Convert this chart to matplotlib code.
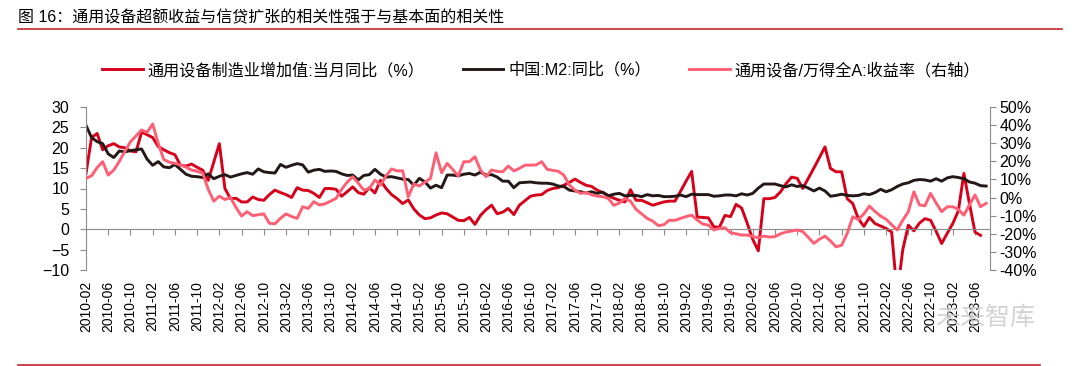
import matplotlib
matplotlib.use("Agg")
import matplotlib.pyplot as plt
from matplotlib.lines import Line2D
import numpy as np
import pandas as pd

plt.rcParams['font.family'] = ['Liberation Sans', 'Noto Sans CJK SC', 'DejaVu Sans']

# monthly data, 2010-02 .. 2023-08
months = pd.period_range("2010-02", "2023-08", freq="M")

# 通用设备制造业增加值:当月同比 (%), 2010-02 .. 2023-07
equip_va = [
    13.7, 22.5, 23.5, 19.5, 20.5, 21.0, 20.2, 20.0, 19.2, 19.0, 23.8,
    23.2, 22.5, 20.3, 19.5, 18.8, 18.3, 15.7, 15.5, 16.0, 15.2, 14.5, 12.0,
    16.5, 21.0, 10.0, 7.5, 7.6, 6.7, 6.7, 7.9, 7.3, 7.1, 8.5, 9.6,
    9.0, 8.5, 7.8, 10.2, 9.6, 9.5, 8.8, 7.8, 10.0, 10.0, 9.8, 8.1,
    9.2, 10.4, 9.0, 8.6, 10.2, 8.9, 12.0, 10.0, 8.5, 7.5, 6.3, 7.2,
    5.0, 3.5, 2.6, 2.8, 3.5, 4.0, 3.8, 3.0, 2.2, 2.1, 2.9, 1.2,
    3.4, 4.8, 5.9, 3.8, 4.2, 5.1, 3.6, 5.9, 7.0, 8.1, 8.4, 8.5,
    9.5, 10.0, 10.2, 10.8, 11.5, 12.3, 11.5, 10.8, 10.5, 9.6, 9.0, 8.3,
    7.6, 7.1, 6.7, 9.7, 7.1, 7.1, 6.5, 5.9, 6.3, 6.7, 6.9, 6.9,
    9.3, 11.8, 14.2, 3.0, 2.9, 2.8, 0.6, 0.5, 3.4, 3.1, 6.1, 5.2,
    1.5, -2.5, -5.3, 7.5, 7.5, 7.8, 9.2, 11.2, 12.8, 12.5, 10.0, 12.5,
    15.0, 17.6, 20.2, 14.9, 14.1, 14.1, 7.5, 6.3, 2.6, 0.7, 2.9, 1.4,
    0.8, 0.2, -0.7, -16.0, -5.0, 1.0, -0.4, 1.5, 2.6, 2.2, -0.5, -3.5,
    -1.0, 1.4, 4.5, 13.7, 6.3, -0.7, -1.5,
]

# 中国:M2:同比 (%)
m2 = [
    25.5, 22.5, 21.5, 21.0, 18.5, 17.6, 19.2, 19.0, 19.3, 19.5, 19.7,
    17.2, 15.7, 16.6, 15.3, 15.1, 15.9, 14.7, 13.5, 13.0, 12.9, 12.7, 13.6,
    12.4, 13.0, 13.4, 12.8, 13.2, 13.6, 13.9, 13.5, 14.8, 14.1, 13.9, 13.8,
    15.9, 15.2, 15.7, 16.1, 15.8, 14.0, 14.5, 14.7, 14.2, 14.3, 14.2, 13.6,
    13.2, 13.3, 12.1, 13.2, 13.4, 14.7, 13.5, 12.8, 12.9, 12.6, 12.3, 12.2,
    10.8, 12.5, 11.6, 10.1, 10.8, 10.2, 13.3, 13.3, 13.1, 13.5, 13.7, 13.3,
    14.0, 13.3, 13.4, 12.8, 11.8, 11.8, 10.2, 11.4, 11.5, 11.6, 11.4, 11.3,
    11.3, 11.1, 10.6, 10.5, 9.6, 9.4, 9.2, 8.9, 9.2, 8.8, 9.1, 8.2,
    8.6, 8.8, 8.2, 8.3, 8.3, 8.0, 8.5, 8.2, 8.3, 8.0, 8.0, 8.1,
    8.4, 8.0, 8.6, 8.5, 8.5, 8.5, 8.1, 8.2, 8.4, 8.4, 8.2, 8.7,
    8.4, 8.8, 10.1, 11.1, 11.1, 11.1, 10.7, 10.4, 10.9, 10.5, 10.7, 10.1,
    9.4, 10.1, 9.4, 8.1, 8.3, 8.6, 8.3, 8.2, 8.3, 8.7, 8.5, 9.0,
    9.8, 9.2, 9.7, 10.5, 11.1, 11.4, 12.0, 12.2, 12.1, 11.8, 12.4, 11.8,
    12.6, 12.9, 12.7, 12.4, 11.6, 11.3, 10.7, 10.6,
]

# 通用设备/万得全A:收益率 (%), right axis
rel_ret = [
    10.6, 12.0, 16.5, 19.8, 12.4, 15.2, 20.0, 25.5, 30.8, 34.0, 37.3,
    36.0, 40.6, 29.9, 21.0, 19.5, 18.9, 18.0, 16.8, 15.2, 14.5, 13.5, 4.5,
    -2.0, 0.8, -1.1, 0.1, -5.5, -10.2, -7.8, -10.0, -9.5, -9.0, -14.2, -14.5,
    -11.5, -9.0, -10.5, -11.5, -5.1, -6.0, -2.3, -4.1, -3.5, -2.0, -0.5, 4.5,
    8.5, 11.5, 8.0, 4.1, 5.0, 9.7, 6.9, 12.0, 15.8, 14.7, 14.8, 0.4,
    7.5, 6.4, 8.5, 10.6, 24.7, 13.7, 18.9, 15.5, 11.9, 19.8, 19.8, 22.5,
    15.2, 11.5, 15.2, 14.5, 14.2, 17.4, 14.7, 16.1, 17.9, 17.9, 18.0, 19.8,
    15.6, 15.0, 14.5, 12.4, 6.9, 4.1, 2.3, 2.8, 1.5, 0.8, 0.5, -0.5,
    -4.3, -3.0, -0.5, -2.0, -6.5, -9.0, -11.5, -13.0, -15.5, -15.0, -12.5, -12.6,
    -11.5, -10.5, -9.7, -12.4, -14.6, -15.2, -17.9, -17.0, -16.7, -19.4, -20.0, -20.7,
    -20.7, -21.5, -22.2, -21.3, -21.8, -21.6, -20.0, -19.0, -18.5, -17.9, -18.8, -22.0,
    -25.3, -23.0, -21.3, -24.0, -27.2, -26.3, -19.8, -10.6, -12.1, -9.0, -4.7, -7.7,
    -10.2, -12.0, -15.0, -17.9, -12.5, -7.8, 3.2, -4.1, -4.5, 2.3, -3.0, -7.8,
    -5.1, -5.1, -6.5, -9.7, -4.0, 1.4, -5.1, -3.2,
]

labels = ["通用设备制造业增加值:当月同比（%）", "中国:M2:同比（%）", "通用设备/万得全A:收益率（右轴）"]
colors = ["#D7001A", "#231815", "#FF5F74"]
title = "图 16：通用设备超额收益与信贷扩张的相关性强于与基本面的相关性"

x_red = np.arange(len(equip_va))
x_all = np.arange(len(months))
tick_pos = np.arange(0, len(months) - 2, 4)
tick_lab = [str(months[i]) for i in tick_pos]

fig = plt.figure(figsize=(10.8, 3.66), dpi=100)
ax = fig.add_axes([86 / 1080, 96 / 366, 904 / 1080, 163 / 366])
ax2 = ax.twinx()

l1, = ax.plot(x_red, equip_va, color=colors[0], lw=2.1)
l2, = ax.plot(x_all, m2, color=colors[1], lw=2.1)
l3, = ax2.plot(x_all, rel_ret, color=colors[2], lw=2.1)

ax.set_xlim(0, 162.7)
ax.set_ylim(-10, 30)
ax.set_yticks(range(-10, 31, 5))
ax2.set_ylim(-40, 50)
ax2.set_yticks(range(-40, 51, 10))
ax2.set_yticklabels([f"{v}%" for v in range(-40, 51, 10)])

grey = "#8C8C8C"
for s in ["top", "right"]:
    ax.spines[s].set_visible(False)
ax.spines["left"].set_color(grey)
ax.spines["bottom"].set_color(grey)
ax.spines["bottom"].set_position(("data", 0))
for s in ["top", "left", "bottom"]:
    ax2.spines[s].set_visible(False)
ax2.spines["right"].set_color(grey)

ax.set_xticks(tick_pos)
ax.set_xticklabels(tick_lab, rotation=90, fontsize=10)
ax.tick_params(axis="x", direction="out", length=4, color=grey, pad=33)
ax.tick_params(axis="y", direction="out", length=4, color=grey, labelsize=11.5, pad=8)
ax2.tick_params(axis="y", direction="out", length=4, color=grey, labelsize=11.5, pad=3)

fig.legend([l1, l2, l3], labels, loc="center", bbox_to_anchor=(0.501, 1 - 70 / 366),
           ncol=3, frameon=False, fontsize=11.6, handlelength=2.5,
           handletextpad=0.3, columnspacing=2.4)

fig.text(18 / 1080, 1 - 17 / 366, title, fontsize=11.5, ha="left", va="center")
fig.add_artist(Line2D([18 / 1080, 1062 / 1080], [1 - 29 / 366] * 2, color="#C0262D", lw=1.2))
fig.add_artist(Line2D([18 / 1080, 1040 / 1080], [1 - 364.5 / 366] * 2, color="#C0262D", lw=1.2))

# watermark
fig.text(935 / 1080, 1 - 318 / 366, "未来智库", fontsize=18, color="#C8C8C8",
         ha="left", va="center", alpha=0.8)

fig.savefig("out.png", dpi=100)
